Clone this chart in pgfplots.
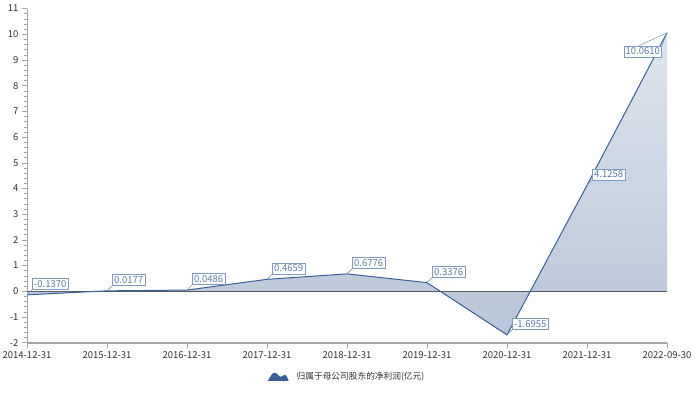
\documentclass[border=0pt]{standalone}
\usepackage{fontspec}
\setmainfont{Noto Sans CJK SC}
\usepackage{pgfplots}
\pgfplotsset{compat=1.18}
\definecolor{linec}{HTML}{3A5F96}
\definecolor{topc}{HTML}{DFE5EE}
\definecolor{botc}{HTML}{B8C5D8}
\definecolor{lblb}{HTML}{7E9AC3}
\definecolor{lblt}{HTML}{5C7CAA}
\definecolor{axisg}{HTML}{A6A6A6}
\definecolor{zeroc}{HTML}{5A5A5A}
\definecolor{tickc}{HTML}{333333}
\begin{document}
\begin{tikzpicture}
\useasboundingbox (0,0) rectangle (700pt,392pt);
\begin{axis}[
  at={(27pt,49.3pt)}, anchor=south west,
  scale only axis, width=640pt, height=334.1pt,
  xmin=0, xmax=8, ymin=-2, ymax=11,
  xtick={0,...,8},
  xticklabels={2014-12-31,2015-12-31,2016-12-31,2017-12-31,2018-12-31,2019-12-31,2020-12-31,2021-12-31,2022-09-30},
  ytick={-2,-1,...,11}, minor y tick num=4,
  axis x line*=bottom, axis y line*=left,
  x axis line style={axisg, line width=2pt},
  y axis line style={axisg, line width=0.8pt},
  tick align=outside, major tick length=5pt, minor tick length=3pt,
  tick style={axisg, line width=0.6pt},
  /pgf/number format/assume math mode=true,
  ticklabel style={font=\fontsize{9.5}{11}\selectfont, text=tickc},
  legend style={at={(0.5,-0.102)}, anchor=center, draw=none, fill=none,
    font=\fontsize{8.7}{10}\selectfont, text=tickc},
  legend image code/.code={%
    \fill[linec] (0pt,-4pt) .. controls (3pt,0pt) and (4pt,4pt) .. (7pt,4pt)
      .. controls (10pt,4pt) and (11pt,0pt) .. (13pt,0pt)
      .. controls (15pt,0pt) and (16pt,2pt) .. (17pt,2pt)
      .. controls (19pt,2pt) and (20pt,-2pt) .. (21pt,-4pt) -- cycle;},
  clip=false,
]
\addplot[draw=none, top color=topc, bottom color=botc, forget plot] coordinates {
(0,-0.1370) (1,0.0177) (2,0.0486) (3,0.4659) (4,0.6776) (5,0.3376) (6,-1.6955) (7,4.1258) (8,10.0610)
} \closedcycle;
\addlegendimage{draw=none}
\addlegendentry{\hspace{6pt}归属于母公司股东的净利润(亿元)}
\addplot[zeroc, line width=0.8pt, forget plot] coordinates {(0,0) (8,0)};
\addplot[linec, line width=1pt, forget plot] coordinates {
(0,-0.1370) (1,0.0177) (2,0.0486) (3,0.4659) (4,0.6776) (5,0.3376) (6,-1.6955) (7,4.1258) (8,10.0610)
};
\tikzset{lbl/.style={draw=lblb, fill=white, text=lblt, font=\fontsize{9.5}{11}\selectfont,
  inner xsep=1.8pt, inner ysep=1.8pt, text height=7pt, text depth=0.5pt, line width=0.6pt}}
\foreach \xx/\yy/\tt in {0/-0.1370/-0.1370, 1/0.0177/0.0177, 2/0.0486/0.0486, 3/0.4659/0.4659, 4/0.6776/0.6776, 5/0.3376/0.3376, 6/-1.6955/-1.6955, 7/4.1258/4.1258}{
  \edef\temp{\noexpand\node[lbl, anchor=south west] (L) at ([xshift=5pt,yshift=5pt]axis cs:\xx,\yy) {\tt};
  \noexpand\draw[lblb, line width=0.6pt] (axis cs:\xx,\yy) -- (L.south west);}
  \temp
}
\node[lbl, anchor=north east] (M) at ([xshift=-5pt,yshift=-13pt]axis cs:8,10.0610) {10.0610};
\draw[lblb, line width=0.6pt] ([xshift=-4pt]M.north) -- (axis cs:8,10.0610) -- (M.north east);
\end{axis}
\end{tikzpicture}
\end{document}
